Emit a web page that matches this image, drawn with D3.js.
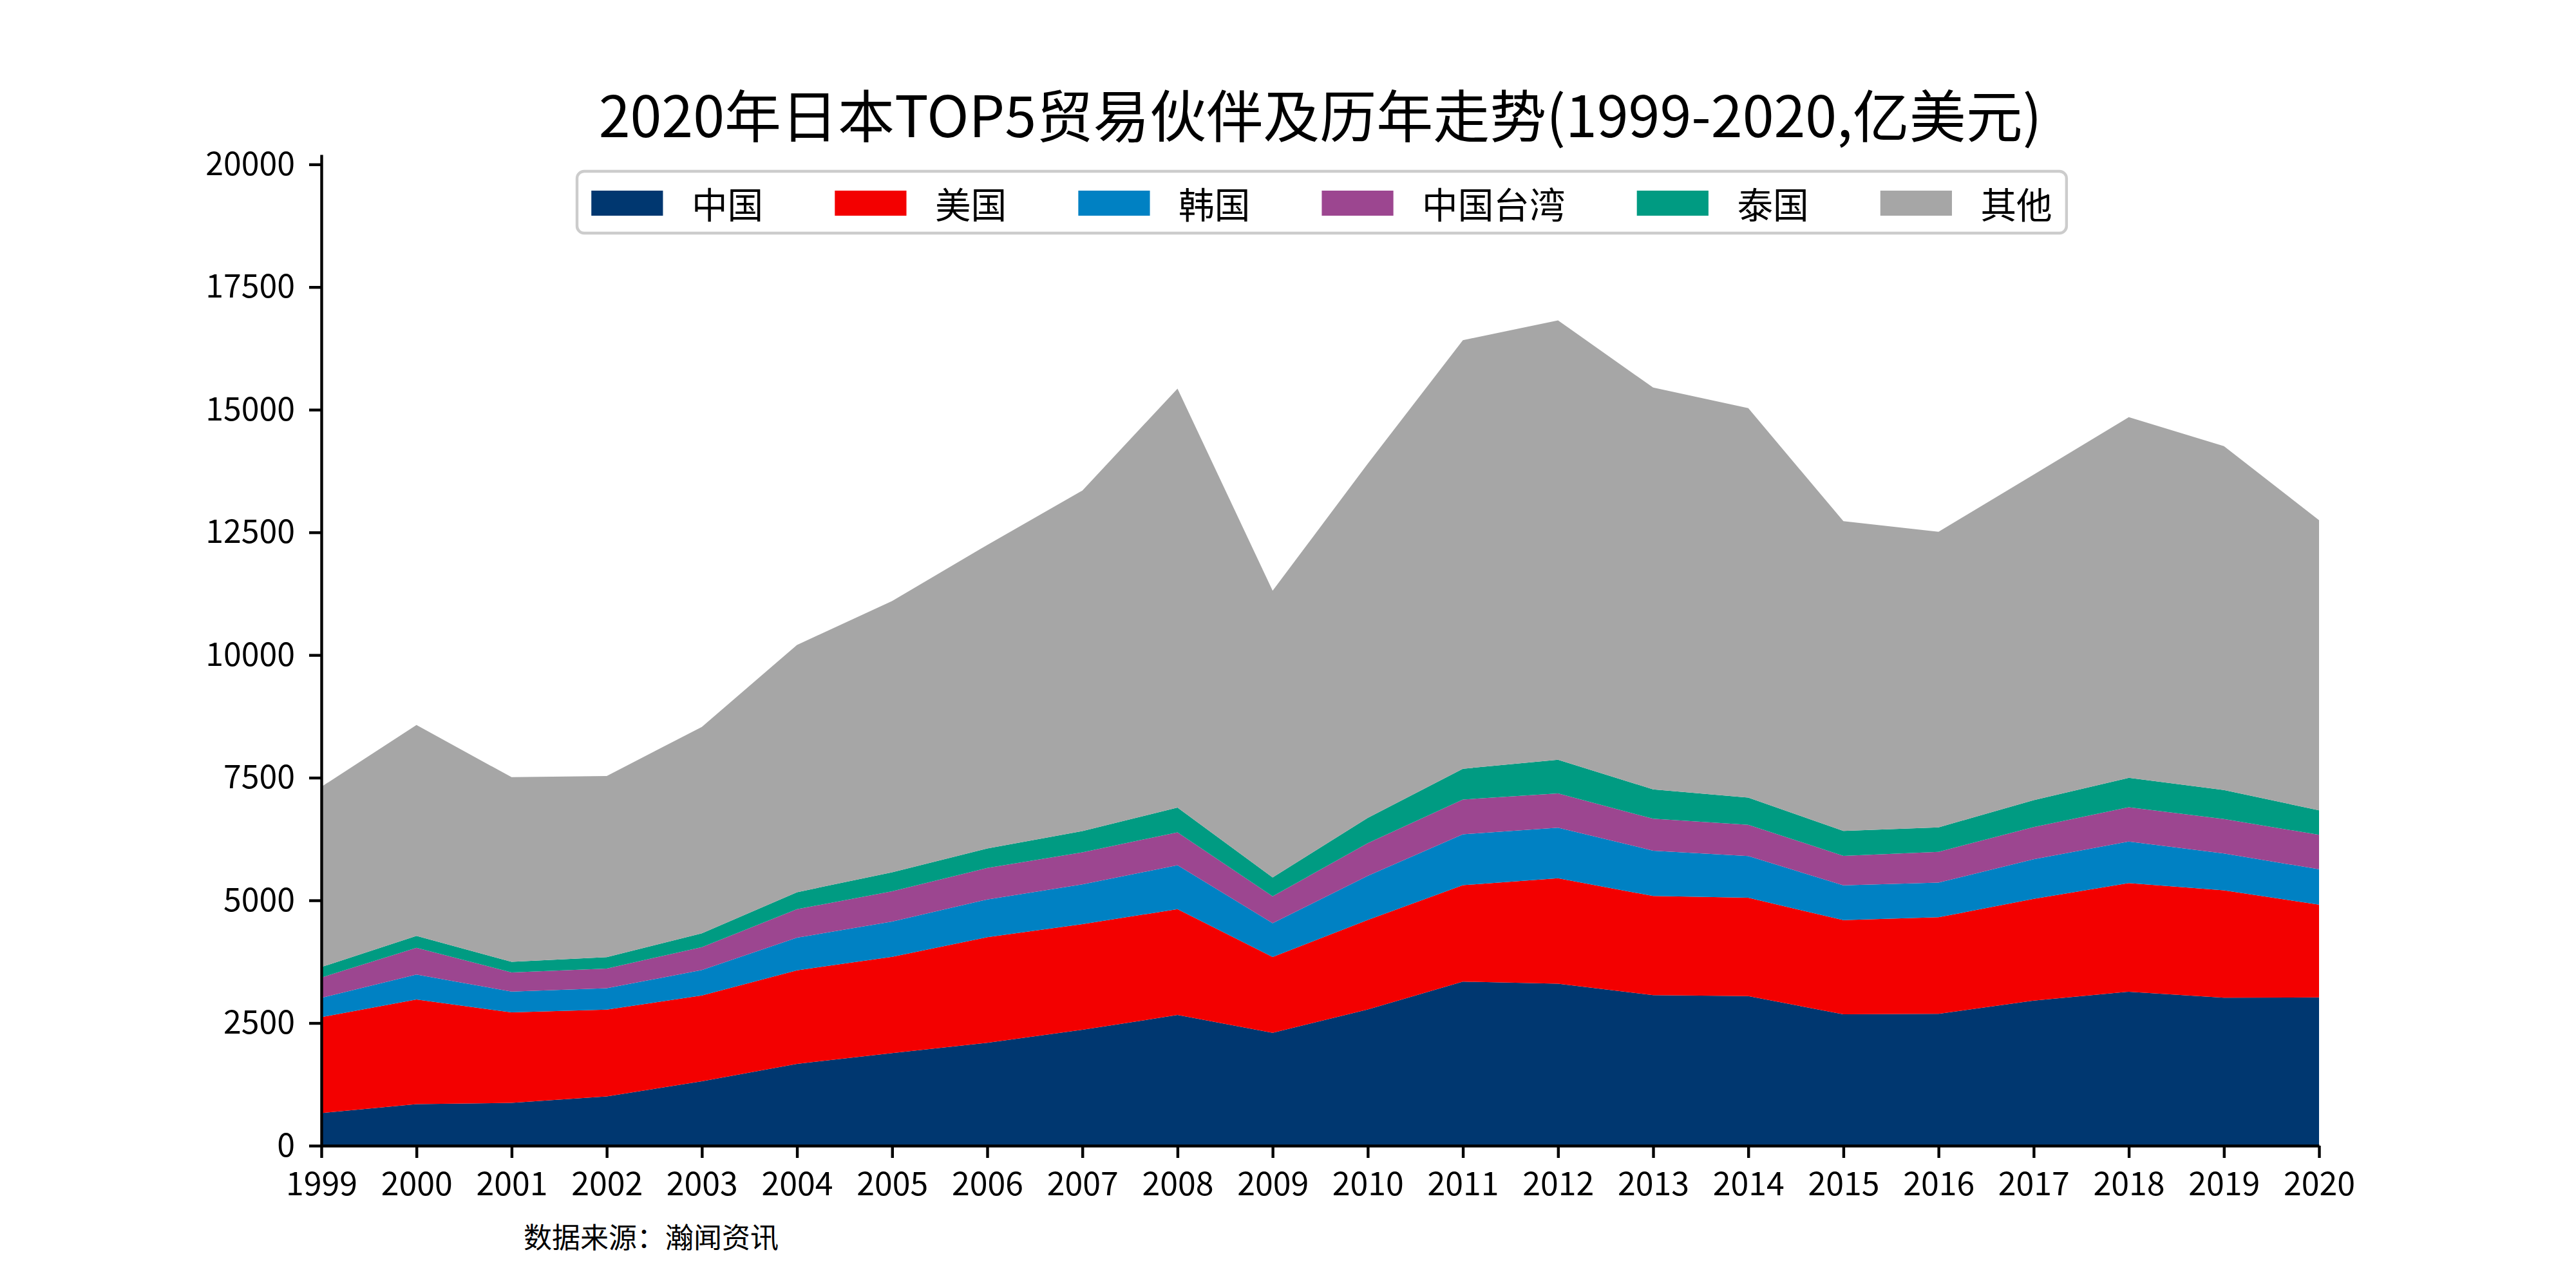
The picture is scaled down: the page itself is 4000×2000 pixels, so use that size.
<!DOCTYPE html>
<html>
<head>
<meta charset="utf-8">
<script src="https://cdn.jsdelivr.net/npm/d3@7"></script>
<style>
  html, body { margin: 0; padding: 0; background: #ffffff; }
  svg { display: block; }
  text { font-family: "Noto Sans CJK SC", "Noto Sans", sans-serif; fill: #000; }
</style>
</head>
<body>
<script>
// ---------------- data ----------------
const years = [1999,2000,2001,2002,2003,2004,2005,2006,2007,2008,2009,2010,2011,2012,2013,2014,2015,2016,2017,2018,2019,2020];
const seriesNames = ["中国","美国","韩国","中国台湾","泰国","其他"];
const china    = [664,847,873,1004,1314,1668,1886,2096,2362,2663,2301,2775,3343,3302,3068,3050,2676,2687,2957,3138,3015,3021];
const usa      = [1956,2131,1843,1768,1747,1906,1964,2152,2152,2158,1544,1827,1967,2149,2020,2003,1920,1968,2072,2213,2190,1891];
const korea    = [393,510,423,437,519,665,717,770,810,896,691,896,1037,1030,925,849,709,708,808,849,750,721];
const taiwan   = [414,546,393,402,466,582,617,643,656,670,547,667,708,697,650,638,603,627,656,697,702,702];
const thailand = [214,240,214,231,281,345,389,398,433,503,385,516,627,688,599,553,507,498,548,600,590,500];
const others   = [3673,4300,3764,3693,4208,5040,5527,6185,6940,8539,5842,7219,8734,8955,8189,7938,6312,6025,6635,7350,7011,5913];
const yTicks = [0,2500,5000,7500,10000,12500,15000,17500,20000];
const colors = ["#003770","#f30000","#0081c3","#9c4690","#009b82","#a6a6a6"];
const titleText = "2020年日本TOP5贸易伙伴及历年走势(1999-2020,亿美元)";
const sourceText = "数据来源：瀚闻资讯";

// table built from the arrays
const seriesArrays = [china, usa, korea, taiwan, thailand, others];
const table = years.map((yr, i) => {
  const row = { year: yr };
  seriesNames.forEach((n, k) => row[n] = seriesArrays[k][i]);
  return row;
});

// ---------------- layout ----------------
const W = 4000, H = 2000;
const svg = d3.select("body").append("svg").attr("width", W).attr("height", H);

const x = d3.scaleLinear().domain([1999, 2020]).range([499, 3601]);
const y = d3.scaleLinear().domain([0, 20200]).range([1779, 240]);

const stack = d3.stack().keys(seriesNames);
const layers = stack(table);

const area = d3.area()
  .x(d => x(d.data.year))
  .y0(d => y(d[0]))
  .y1(d => y(d[1]));

svg.append("g").selectAll("path")
  .data(layers)
  .join("path")
  .attr("d", area)
  .attr("fill", (d, i) => colors[i]);

// axes
const yAxis = d3.axisLeft(y).tickValues(yTicks).tickFormat(d3.format("d"))
  .tickSize(19).tickSizeOuter(0).tickPadding(22);
const gy = svg.append("g").attr("transform", "translate(499,0)").call(yAxis);
gy.selectAll("text").style("font-size", "50px");
gy.selectAll("line").attr("stroke", "#000").attr("stroke-width", 4.4);
gy.select(".domain").attr("stroke", "#000").attr("stroke-width", 4.4);

const xAxis = d3.axisBottom(x).tickValues(years).tickFormat(d3.format("d"))
  .tickSize(19).tickSizeOuter(0).tickPadding(22);
const gx = svg.append("g").attr("transform", "translate(0,1779)").call(xAxis);
gx.selectAll("text").style("font-size", "50px");
gx.selectAll("line").attr("stroke", "#000").attr("stroke-width", 4.4);
gx.select(".domain").attr("stroke", "#000").attr("stroke-width", 4.4);

// title
svg.append("text")
  .attr("x", 2050).attr("y", 174)
  .attr("text-anchor", "middle")
  .attr("dominant-baseline", "central")
  .style("font-size", "88px")
  .text(titleText);

// legend
const em = 55.6;
const legend = svg.append("g");
const frame = legend.append("rect")
  .attr("x", 896).attr("y", 266).attr("rx", 11).attr("ry", 11)
  .attr("height", 96)
  .attr("fill", "#ffffff").attr("fill-opacity", 0.8)
  .attr("stroke", "#cccccc").attr("stroke-width", 4.4);
let cx = 896 + 0.4 * em;
seriesNames.forEach((name, i) => {
  legend.append("rect")
    .attr("x", cx).attr("y", 296)
    .attr("width", 2 * em).attr("height", 0.7 * em)
    .attr("fill", colors[i]);
  const t = legend.append("text")
    .attr("x", cx + 2.8 * em).attr("y", 315)
    .attr("dominant-baseline", "central")
    .style("font-size", em + "px")
    .text(name);
  const tw = t.node().getComputedTextLength();
  cx = cx + 2.8 * em + tw + (i < seriesNames.length - 1 ? 2 * em : 0);
});
frame.attr("width", cx + 0.4 * em - 896);

// source
svg.append("text")
  .attr("x", 813).attr("y", 1919)
  .attr("dominant-baseline", "central")
  .style("font-size", "44px")
  .text(sourceText);
</script>
</body>
</html>
